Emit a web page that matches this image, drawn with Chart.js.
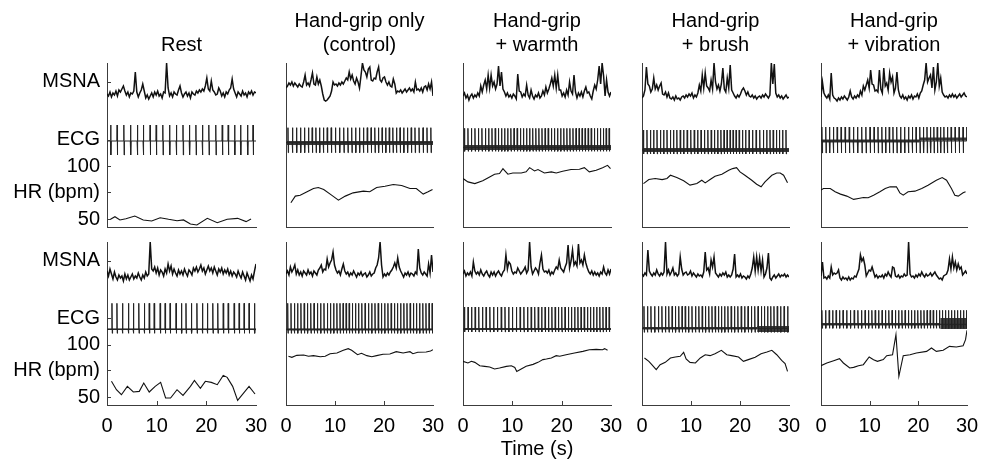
<!DOCTYPE html>
<html><head><meta charset="utf-8">
<script src="https://cdn.jsdelivr.net/npm/chart.js@4/dist/chart.umd.min.js"></script>
<style>
html,body{margin:0;padding:0;background:#fff;width:982px;height:461px;overflow:hidden;position:relative;}
canvas{position:absolute;}
</style></head><body>
<script>
// ---------------- DATA ----------------
const titleLines = [['Rest'], ['Hand-grip only', '(control)'], ['Hand-grip', '+ warmth'], ['Hand-grip', '+ brush'], ['Hand-grip', '+ vibration']];
const timeTicks = [0, 10, 20, 30];
const yTickValues = [50, 75.6, 100, 125.2, 180];
const yTickLabels = ['50', 'HR (bpm)', '100', 'ECG', 'MSNA'];
const msnaStep = 0.3; // s between MSNA samples (a.u.)

// MSNA (a.u.), one value every 0.3 s from 0 to 30 s
const msnaRest1 = [0,-2,2,-3,1,-1,3,-2,4,2, 5,8,3,-1,2,-3,1,0,3,22, 2,-3,1,4,10,3,-4,-1,-5,-2, 1,-3,2,-1,3,-2,0,-4,2,1, 31,6,-2,1,-3,2,0,-1,4,8, 1,-3,0,2,-2,1,-4,2,0,-1, 3,1,4,2,5,3,8,16,5,3, 13,4,2,-1,0,6,3,-2,1,-3, 2,0,4,6,15,5,1,-3,2,0, -2,3,-1,1,-3,2,0,3,-1,2,1];
const msnaControl1 = [6,8,11,9,12,8,11,9,7,10, 8,7,12,19,9,11,8,14,21,10, 9,17,10,14,8,0,-6,-7,-6,-4, -2,3,12,9,10,8,11,9,12,10, 13,16,14,22,15,19,13,10,16,12, 6,18,31,24,22,17,25,27,14,13, 16,15,22,27,14,12,16,17,12,9, 12,8,7,15,10,1,3,2,4,1, 3,5,2,4,6,3,5,2,12,4, 5,3,6,2,7,8,4,10,5,12,-2];
const msnaWarmth1 = [-2,1,-4,-1,-6,-2,0,-4,-1,-3, 1,-2,8,2,9,14,5,19,6,19, 8,12,5,10,28,8,22,5,2,-2, 1,-3,-1,-4,0,-2,-5,20,3,2, -3,0,-2,9,-1,-4,4,-2,-5,-1, -3,1,-4,-2,3,-1,7,1,5,10, 16,8,19,6,19,4,4,-2,1,-3, 4,-1,12,3,0,19,2,-4,1,-2, 2,-3,3,7,1,2,-2,-5,3,9, 5,14,28,10,31,18,-2,14,2,-2,2];
const msnaBrush1 = [-4,-2,4,27,10,8,2,5,16,5, 9,4,8,11,0,-1,2,-3,1,-4, -5,-3,-6,-2,-5,-4,-6,-3,-2,-4, -1,-3,0,-2,1,-4,-1,-3,1,9, 3,19,6,21,8,6,3,14,5,31, 12,5,9,3,10,26,5,2,16,6, 29,4,1,-2,-4,-1,-3,0,4,6, 3,-1,2,-2,-3,-1,-4,-2,-5,-3, -2,-4,-1,-3,0,-2,-4,-1,31,10, 30,1,-3,-1,-4,-2,-5,-3,-1,-4,-3];
const msnaVibration1 = [-3,12,1,-2,-4,-1,-5,21,-1,-4, -5,-7,-4,-6,-3,-5,-2,-4,-6,-3, 3,-3,-5,-2,-4,-1,-3,3,-1,8, 4,9,14,6,24,10,9,3,4,2, 24,5,1,26,8,11,4,21,12,17, 1,6,22,4,-2,-4,-1,-5,-3,-6, -2,-4,-1,-5,-2,-3,0,-4,1,3, 9,14,31,12,16,19,6,27,4,12, 31,8,16,2,-1,-3,-2,-4,-1,-3, 0,-3,-1,-4,-2,0,-3,-1,1,-2,-3];
const msnaRest2 = [2,-3,4,-1,-6,1,-4,-7,-2,-5, -3,-8,-1,-6,-2,-7,-4,-1,-6,-3, -5,0,-4,-7,-2,-5,1,-3,-1,31, 4,2,6,0,5,-2,3,1,-3,4, 0,9,2,7,-1,4,0,-3,3,-1, 2,-2,4,0,-3,3,1,-2,5,2, 6,1,4,8,2,5,-1,3,7,2, 5,0,6,2,-2,4,1,5,-1,3, 0,4,-2,2,-3,1,-1,-4,2,-2, -5,1,-3,-7,0,-4,-8,-2,-6,2,9];
const msnaControl2 = [-1,2,-2,6,1,4,8,-1,3,-2, 1,-3,2,0,-2,3,-1,1,-3,2, 0,-2,3,5,8,1,4,3,14,6, 10,13,21,8,3,0,2,-2,4,9, 2,-1,1,-3,0,-2,2,-1,-4,0, -2,1,-3,-1,0,-4,-2,1,-3,-1, 0,5,8,15,31,8,-4,-1,-3,0, -2,1,3,6,10,5,15,6,2,-1, -4,0,-2,1,-3,0,-1,-3,1,-1, 24,5,0,-2,1,-1,-3,9,0,18,1];
const msnaWarmth2 = [-1,2,-3,0,-2,1,-3,11,2,-1, 1,-2,3,-1,-3,0,2,-2,-4,1, -2,1,-3,0,2,-1,-3,1,3,18, 4,11,9,2,-1,1,0,5,2,-1, 1,3,6,0,3,31,6,-1,2,5, 3,-1,10,18,4,1,2,0,3,-2, 1,-1,3,6,4,13,5,3,1,6, 10,28,5,12,23,8,11,7,29,10, 13,8,18,10,5,1,-1,2,-2,1, -2,0,-3,1,-1,6,0,-2,3,-1,4];
const msnaBrush2 = [-1,-3,0,-2,23,2,-1,-3,0,-2, 3,-1,-3,0,-2,1,31,-1,3,-2, 1,5,-2,0,-3,-1,16,4,-2,0, 1,-2,-1,2,-3,0,-2,-4,-1,-3, -2,-4,1,21,3,5,-1,13,6,16, 0,-2,-4,-1,-3,0,-2,1,-4,-2, -4,-2,4,19,-4,-2,-4,-1,-5,-3, -4,-6,-3,-5,-1,5,16,2,16,3, 15,2,13,-4,-1,5,20,-5,-7,-4, -2,-5,-3,-1,-4,-2,-3,-1,-4,-2,-4];
const msnaVibration2 = [-3,11,-5,-4,-6,-3,-5,6,-2,0, -1,0,3,-5,-7,-4,-6,-5,-7,-4, -7,-5,-6,-3,-4,0,4,18,12,15, 8,-3,0,3,2,6,1,-4,-2,-5, -3,-4,-2,-5,-1,-3,1,-2,-4,6, 5,-3,-4,-2,-5,-3,-4,-1,-3,-2, 31,-1,-4,-3,-5,-2,-4,-1,-3,1, -2,-4,-1,-3,-2,0,-3,-1,1,-2, -4,-6,-5,-7,-3,-2,-1,3,14,4, 16,5,11,3,9,4,6,-2,0,2,-1];

// ECG R-wave times (s)
const ecgRest1 = [0.74,2.03,3.39,4.74,6.1,7.3,8.67,9.9,11.24,12.6,13.95,15.3,16.6,17.9,19.2,20.5,21.9,23.2,24.4,25.7,26.9,28.3,29.4];
const ecgControl1 = [0.4,1.3,2.15,2.97,3.78,4.57,5.34,6.1,6.85,7.62,8.41,9.22,10.07,10.93,11.78,12.6,13.41,14.21,15.0,15.79,16.58,17.36,18.12,18.87,19.61,20.34,21.07,21.8,22.53,23.27,24.02,24.79,25.55,26.32,27.14,27.96,28.77,29.56];
const ecgWarmth1 = [0.3,1.0,1.71,2.42,3.13,3.83,4.52,5.2,5.87,6.53,7.18,7.82,8.44,9.06,9.7,10.34,10.98,11.62,12.26,12.89,13.51,14.13,14.76,15.38,16.01,16.64,17.27,17.9,18.54,19.17,19.8,20.43,21.05,21.67,22.29,22.91,23.53,24.14,24.75,25.37,25.99,26.61,27.22,27.83,28.43,29.02,29.62];
const ecgBrush1 = [0.3,1.01,1.7,2.38,3.06,3.74,4.42,5.1,5.77,6.44,7.11,7.8,8.5,9.22,9.95,10.66,11.36,12.05,12.75,13.44,14.12,14.79,15.45,16.1,16.74,17.36,17.98,18.59,19.2,19.83,20.48,21.15,21.85,22.56,23.29,24.03,24.75,25.45,26.12,26.77,27.41,28.05,28.7,29.38];
const ecgVibration1 = [0.2,0.98,1.75,2.53,3.32,4.13,4.96,5.8,6.65,7.51,8.37,9.22,10.07,10.9,11.71,12.5,13.27,14.02,14.78,15.56,16.36,17.17,17.96,18.75,19.53,20.3,21.05,21.78,22.49,23.19,23.88,24.56,25.25,25.96,26.74,27.55,28.37,29.18,29.95];
const ecgRest2 = [1.0,2.0,3.1,4.3,5.3,6.4,7.5,8.5,9.5,10.7,11.7,12.7,13.9,15.0,15.9,17.0,18.1,19.2,20.2,21.3,22.3,23.4,24.4,25.6,26.6,27.6,28.6,29.7];
const ecgControl2 = [0.35,1.02,1.7,2.37,3.04,3.71,4.38,5.05,5.72,6.39,7.07,7.75,8.42,9.08,9.73,10.38,11.02,11.65,12.27,12.89,13.52,14.16,14.81,15.47,16.14,16.81,17.49,18.16,18.82,19.48,20.14,20.8,21.46,22.11,22.75,23.4,24.05,24.69,25.34,25.98,26.63,27.27,27.92,28.56,29.19,29.82];
const ecgWarmth2 = [0.3,1.02,1.74,2.46,3.19,3.93,4.68,5.44,6.21,6.98,7.75,8.51,9.26,10.02,10.8,11.58,12.34,13.09,13.82,14.54,15.25,15.95,16.64,17.33,18.01,18.68,19.35,20.02,20.68,21.34,21.99,22.64,23.29,23.93,24.57,25.21,25.84,26.47,27.1,27.73,28.36,28.99,29.62];
const ecgBrush2 = [0.4,1.1,1.82,2.58,3.33,4.06,4.77,5.46,6.14,6.82,7.5,8.17,8.82,9.5,10.2,10.9,11.6,12.28,12.95,13.62,14.28,14.93,15.58,16.22,16.87,17.53,18.2,18.88,19.56,20.25,20.95,21.64,22.33,23.01,23.68,24.34,24.99,25.64,26.28,26.93,27.6,28.29,29.0,29.73];
const ecgVibration2 = [0.2,0.95,1.68,2.4,3.11,3.81,4.53,5.28,6.05,6.82,7.58,8.33,9.06,9.76,10.45,11.14,11.84,12.55,13.25,13.93,14.6,15.27,15.95,16.62,17.28,17.94,18.59,19.24,19.88,20.52,21.16,21.8,22.43,23.06,23.69,24.32,24.95,25.58,26.2,26.82,27.44,28.05,28.66,29.26,29.86];

// ECG per panel: baseline, R amplitude, S depth (a.u.), noisy-baseline bands [t0, t1, low, high]
const ecgBase = [0, -1.7, -6.3, -9, 0, -9.3, -9.3, -9, -8.3, -4.3];
const ecgUp = [16, 15, 19, 20, 14, 26, 26, 22, 22, 14];
const ecgDown = [14, 10, 4, 4, 12, 4, 4, 3, 4, 4];
const ecgBands = [
  [],
  [[0, 30, -4, 0]],
  [[0, 30, -9, -4]],
  [[0, 30, -11, -7]],
  [[0, 20.3, -1.5, 1.5], [20.3, 30, 0.5, 3.5]],
  [[0, 30, -10, -8.5]],
  [[0, 30, -10.5, -8.5]],
  [[0, 30, -10, -8]],
  [[0, 23.5, -9.5, -7], [23.5, 30, -12, -6]],
  [[0, 24.5, -5.5, -3], [24.5, 30, -9, 2]]
];

// Heart rate [time (s), bpm]
const hrRest1 = [[0.7,49.7],[1.6,52.2],[2.6,49.1],[3.8,50.3],[5.6,52.8],[7.3,49.1],[9.0,48.1],[10.7,51.2],[12.4,49.7],[14.1,48.4],[15.4,49.1],[16.8,45.3],[18.1,44.3],[20.2,50.6],[22.2,46.5],[24.2,49.7],[26.3,50.6],[28.0,47.5],[29.0,50.0]];
const hrControl1 = [[1.0,65.4],[1.9,71.7],[2.9,72.6],[4.3,75.8],[5.6,78.9],[6.6,79.9],[7.7,78.0],[9.3,72.6],[10.7,67.9],[12.1,71.7],[13.7,74.8],[15.8,76.4],[17.1,75.8],[18.5,79.9],[20.2,81.1],[21.9,82.7],[23.6,81.8],[25.3,78.9],[26.6,78.9],[28.0,73.6],[29.0,75.8],[29.9,78.0]];
const hrWarmth1 = [[0,88.4],[1.0,85.2],[2.4,83.6],[4.0,86.2],[5.4,89.9],[6.4,92.5],[7.4,93.1],[8.1,97.8],[8.4,96.2],[9.1,92.5],[10.1,93.7],[11.8,93.7],[12.8,94.7],[13.5,98.7],[14.5,95.6],[15.2,96.9],[16.5,93.7],[17.9,94.7],[18.9,93.7],[20.2,95.3],[21.9,96.9],[23.6,97.2],[24.6,98.7],[25.6,94.7],[27.0,96.2],[28.3,98.7],[29.3,100.9],[29.9,97.8]];
const hrBrush1 = [[0.3,83.6],[1.4,87.4],[2.7,88.4],[4.1,87.4],[5.1,88.4],[5.8,91.5],[7.1,89.3],[8.5,86.2],[9.8,82.1],[11.2,83.6],[12.2,86.8],[12.9,84.3],[13.9,87.4],[14.9,90.6],[16.3,92.5],[17.7,96.2],[18.5,97.8],[19.3,98.7],[20.0,94.7],[21.0,91.5],[22.4,86.8],[23.4,83.0],[24.3,80.5],[25.1,85.2],[26.5,91.5],[27.5,93.7],[28.2,93.7],[28.9,91.5],[29.7,84.3]];
const hrVibration1 = [[0,77.4],[0.5,78.9],[1.9,78.9],[2.9,75.8],[4.0,73.6],[5.3,71.7],[6.7,68.6],[7.7,69.5],[8.7,70.4],[9.7,70.1],[10.8,72.6],[12.1,75.8],[13.2,78.9],[14.2,80.5],[15.5,80.5],[16.2,74.8],[16.9,72.6],[17.9,75.8],[19.3,76.4],[20.7,78.9],[22.0,82.1],[23.7,86.8],[24.9,89.3],[25.8,86.8],[26.8,78.9],[27.5,72.6],[28.2,71.7],[29.2,74.8],[29.7,75.8]];
const hrRest2 = [[0.9,65.0],[1.9,57.0],[2.9,52.2],[4.1,60.2],[5.3,54.8],[6.5,55.4],[7.4,63.4],[8.5,54.8],[9.7,60.2],[10.8,64.0],[11.8,49.1],[12.8,49.1],[14.1,57.0],[15.3,51.6],[16.8,60.2],[17.6,65.9],[18.8,58.3],[19.8,65.0],[21.0,64.0],[22.2,61.8],[23.4,70.7],[24.2,68.8],[25.3,60.2],[26.3,46.8],[28.6,60.2],[29.8,52.9]];
const hrControl2 = [[0.5,88.9],[1.2,87.9],[2.2,89.8],[3.6,90.1],[4.6,88.9],[5.6,89.5],[7.0,88.5],[8.0,88.9],[9.0,91.4],[10.4,92.0],[11.7,94.6],[12.7,96.2],[13.4,94.6],[14.6,90.4],[15.4,91.7],[16.5,89.5],[17.5,88.5],[18.5,89.5],[19.8,90.8],[21.2,91.1],[22.5,93.3],[23.9,92.0],[25.3,93.3],[25.9,91.4],[26.9,92.7],[28.6,93.0],[29.5,94.0],[30.0,95.2]];
const hrWarmth2 = [[0,84.1],[1.0,82.5],[1.7,84.1],[2.4,83.1],[3.4,79.9],[4.4,79.3],[5.4,78.7],[6.4,76.8],[7.4,77.7],[8.8,79.3],[9.8,79.9],[10.5,78.3],[10.9,74.5],[11.8,76.8],[12.8,79.3],[14.2,81.2],[15.2,83.1],[16.2,85.7],[16.9,86.3],[17.9,87.3],[18.9,89.5],[19.6,88.9],[20.9,90.4],[22.6,92.0],[24.3,93.6],[25.6,95.2],[27.0,95.5],[28.3,95.2],[28.7,96.2],[29.3,94.6]];
const hrBrush2 = [[0.5,87.3],[1.4,84.1],[2.0,80.9],[2.9,76.1],[3.7,80.9],[4.75,83.1],[5.8,87.3],[6.8,88.2],[7.8,88.9],[8.5,92.7],[9.0,86.3],[9.8,83.1],[10.9,82.5],[11.9,87.3],[12.9,90.4],[13.9,89.5],[14.9,91.4],[16.2,94.6],[17.3,90.4],[18.3,89.5],[19.7,88.2],[20.7,84.1],[21.7,85.7],[23.1,87.9],[24.3,91.4],[25.5,93.0],[26.5,94.6],[27.5,90.4],[28.5,85.0],[29.2,81.9],[29.7,74.5]];
const hrVibration2 = [[0,79.9],[1.2,82.5],[2.6,84.7],[3.8,86.6],[4.6,82.5],[5.9,77.7],[6.7,78.3],[7.7,79.9],[8.7,80.9],[9.9,88.2],[10.8,85.7],[11.6,84.1],[12.8,85.7],[13.5,89.5],[14.7,90.4],[15.4,109.6],[16.0,69.8],[16.9,89.5],[18.3,90.4],[19.6,92.0],[21.7,93.6],[22.7,96.8],[23.7,93.6],[25.1,94.6],[26.4,98.4],[27.8,97.8],[29.2,99.0],[29.7,104.8],[30.0,113.7]];

// ---------------- LAYOUT / STYLE ----------------
const FONT = "'Liberation Sans', Arial, Helvetica, sans-serif";
const INK = '#111';
const AXIS = '#3c3c3c';
const colLeft = [107, 286, 463, 642, 821];
const colWidth = [149, 147, 148, 147, 146];
const hrMin = 42.4, hrMax = 198;

const panels = [
  {msna: msnaRest1, ecg: ecgRest1, hr: hrRest1},
  {msna: msnaControl1, ecg: ecgControl1, hr: hrControl1},
  {msna: msnaWarmth1, ecg: ecgWarmth1, hr: hrWarmth1},
  {msna: msnaBrush1, ecg: ecgBrush1, hr: hrBrush1},
  {msna: msnaVibration1, ecg: ecgVibration1, hr: hrVibration1},
  {msna: msnaRest2, ecg: ecgRest2, hr: hrRest2},
  {msna: msnaControl2, ecg: ecgControl2, hr: hrControl2},
  {msna: msnaWarmth2, ecg: ecgWarmth2, hr: hrWarmth2},
  {msna: msnaBrush2, ecg: ecgBrush2, hr: hrBrush2},
  {msna: msnaVibration2, ecg: ecgVibration2, hr: hrVibration2}
];

Chart.defaults.font.family = FONT;
Chart.defaults.color = '#000';

// inward tick marks (MATLAB style)
const inTicks = {
  id: 'inTicks',
  afterDraw(chart, args, opts) {
    const ctx = chart.ctx, a = chart.chartArea;
    ctx.save();
    ctx.strokeStyle = AXIS; ctx.lineWidth = 1;
    ctx.beginPath();
    if (opts.y) {
      chart.scales.y.ticks.forEach(t => {
        const py = Math.round(chart.scales.y.getPixelForValue(t.value)) + 0.5;
        ctx.moveTo(a.left, py); ctx.lineTo(a.left + 4, py);
      });
    }
    if (opts.x) {
      chart.scales.x.ticks.forEach(t => {
        if (t.value === 0 || t.value === 30) return;
        const px = Math.round(chart.scales.x.getPixelForValue(t.value)) + 0.5;
        ctx.moveTo(px, a.bottom); ctx.lineTo(px, a.bottom - 4);
      });
    }
    ctx.stroke();
    ctx.restore();
  }
};

function ecgPoints(beats, b, up, down) {
  const pts = [{x: 0, y: b}];
  beats.forEach(t => {
    [[t - 0.05, b], [t, b + up], [t + 0.06, b - down], [t + 0.12, b]].forEach(([x, y]) => { if (x <= 30) pts.push({x, y}); });
  });
  pts.push({x: 30, y: b});
  return pts;
}

panels.forEach((p, i) => {
  const r = Math.floor(i / 5), c = i % 5;
  const L = colLeft[c], W = colWidth[c];
  const padL = c === 0 ? 107 : 40, padR = padL;
  const cTop = r === 0 ? 0 : 230, cH = r === 0 ? 230 : 231;
  const cv = document.createElement('canvas');
  cv.width = padL + W + padR; cv.height = cH;
  cv.style.left = (L - padL) + 'px'; cv.style.top = cTop + 'px';
  cv.style.width = cv.width + 'px'; cv.style.height = cH + 'px';
  document.body.appendChild(cv);

  const datasets = [];
  datasets.push({label: 'HR', yAxisID: 'y', data: p.hr.map(([x, y]) => ({x, y})), borderColor: INK, borderWidth: 1.1});
  datasets.push({label: 'MSNA', yAxisID: 'yM', data: p.msna.map((v, k) => ({x: +(k * msnaStep).toFixed(2), y: v})), borderColor: INK, borderWidth: 1.5});
  datasets.push({label: 'ECG', yAxisID: 'yE', data: ecgPoints(p.ecg, ecgBase[i], ecgUp[i], ecgDown[i]), borderColor: '#222', borderWidth: 1});
  ecgBands[i].forEach(([t0, t1, lo, hi]) => {
    datasets.push({label: 'ECG noise', yAxisID: 'yE', data: [{x: t0, y: hi}, {x: t1, y: hi}], borderWidth: 0, borderColor: 'rgba(0,0,0,0)', backgroundColor: '#3a3a3a', fill: {value: lo}});
  });

  new Chart(cv, {
    type: 'line',
    data: {datasets},
    plugins: [inTicks],
    options: {
      responsive: false, maintainAspectRatio: false, animation: false, devicePixelRatio: 1,
      layout: {padding: {left: 0, right: 0, top: r === 0 ? (titleLines[c].length === 1 ? 24 : 0) : 12, bottom: 0}},
      elements: {point: {radius: 0}, line: {tension: 0}},
      plugins: {
        legend: {display: false}, tooltip: {enabled: false},
        title: {display: r === 0, text: titleLines[c], color: '#000', font: {size: 20, weight: 'normal', lineHeight: 1.2, family: FONT}, padding: {top: 9, bottom: 6}},
        inTicks: {y: c === 0, x: r === 1}
      },
      scales: {
        x: {
          type: 'linear', min: 0, max: 30, position: 'bottom',
          afterBuildTicks: s => { s.ticks = timeTicks.map(v => ({value: v})); },
          afterFit: s => { s.height = r === 0 ? 3 : 56; },
          grid: {display: false, drawTicks: false},
          border: {display: true, color: AXIS, width: 1},
          ticks: {display: r === 1, padding: 9, color: '#000', font: {size: 20, family: FONT}, maxRotation: 0, autoSkip: false},
          title: {display: r === 1 && c === 2, text: 'Time (s)', color: '#000', font: {size: 20, family: FONT}, padding: {top: 0, bottom: 0}}
        },
        y: {
          type: 'linear', min: hrMin, max: hrMax, position: 'left',
          afterBuildTicks: s => { if (c === 0) s.ticks = yTickValues.map(v => ({value: v})); },
          afterFit: s => { s.width = padL; s.paddingTop = 0; s.paddingBottom = 0; },
          grid: {display: false, drawTicks: false},
          border: {display: true, color: AXIS, width: 1},
          ticks: {display: c === 0, padding: 7, color: '#000', font: {size: 20, family: FONT}, autoSkip: false,
            callback: v => { const k = yTickValues.indexOf(v); return k >= 0 ? yTickLabels[k] : ''; }}
        },
        yM: {type: 'linear', display: false, min: r === 0 ? -133 : -132, max: 31},
        yE: {type: 'linear', display: true, position: 'right', min: r === 0 ? -86 : -85, max: 78,
          afterFit: s => { s.width = padR; },
          grid: {display: false, drawTicks: false}, border: {display: false}, ticks: {display: false}}
      }
    }
  });
});
</script>
</body></html>
